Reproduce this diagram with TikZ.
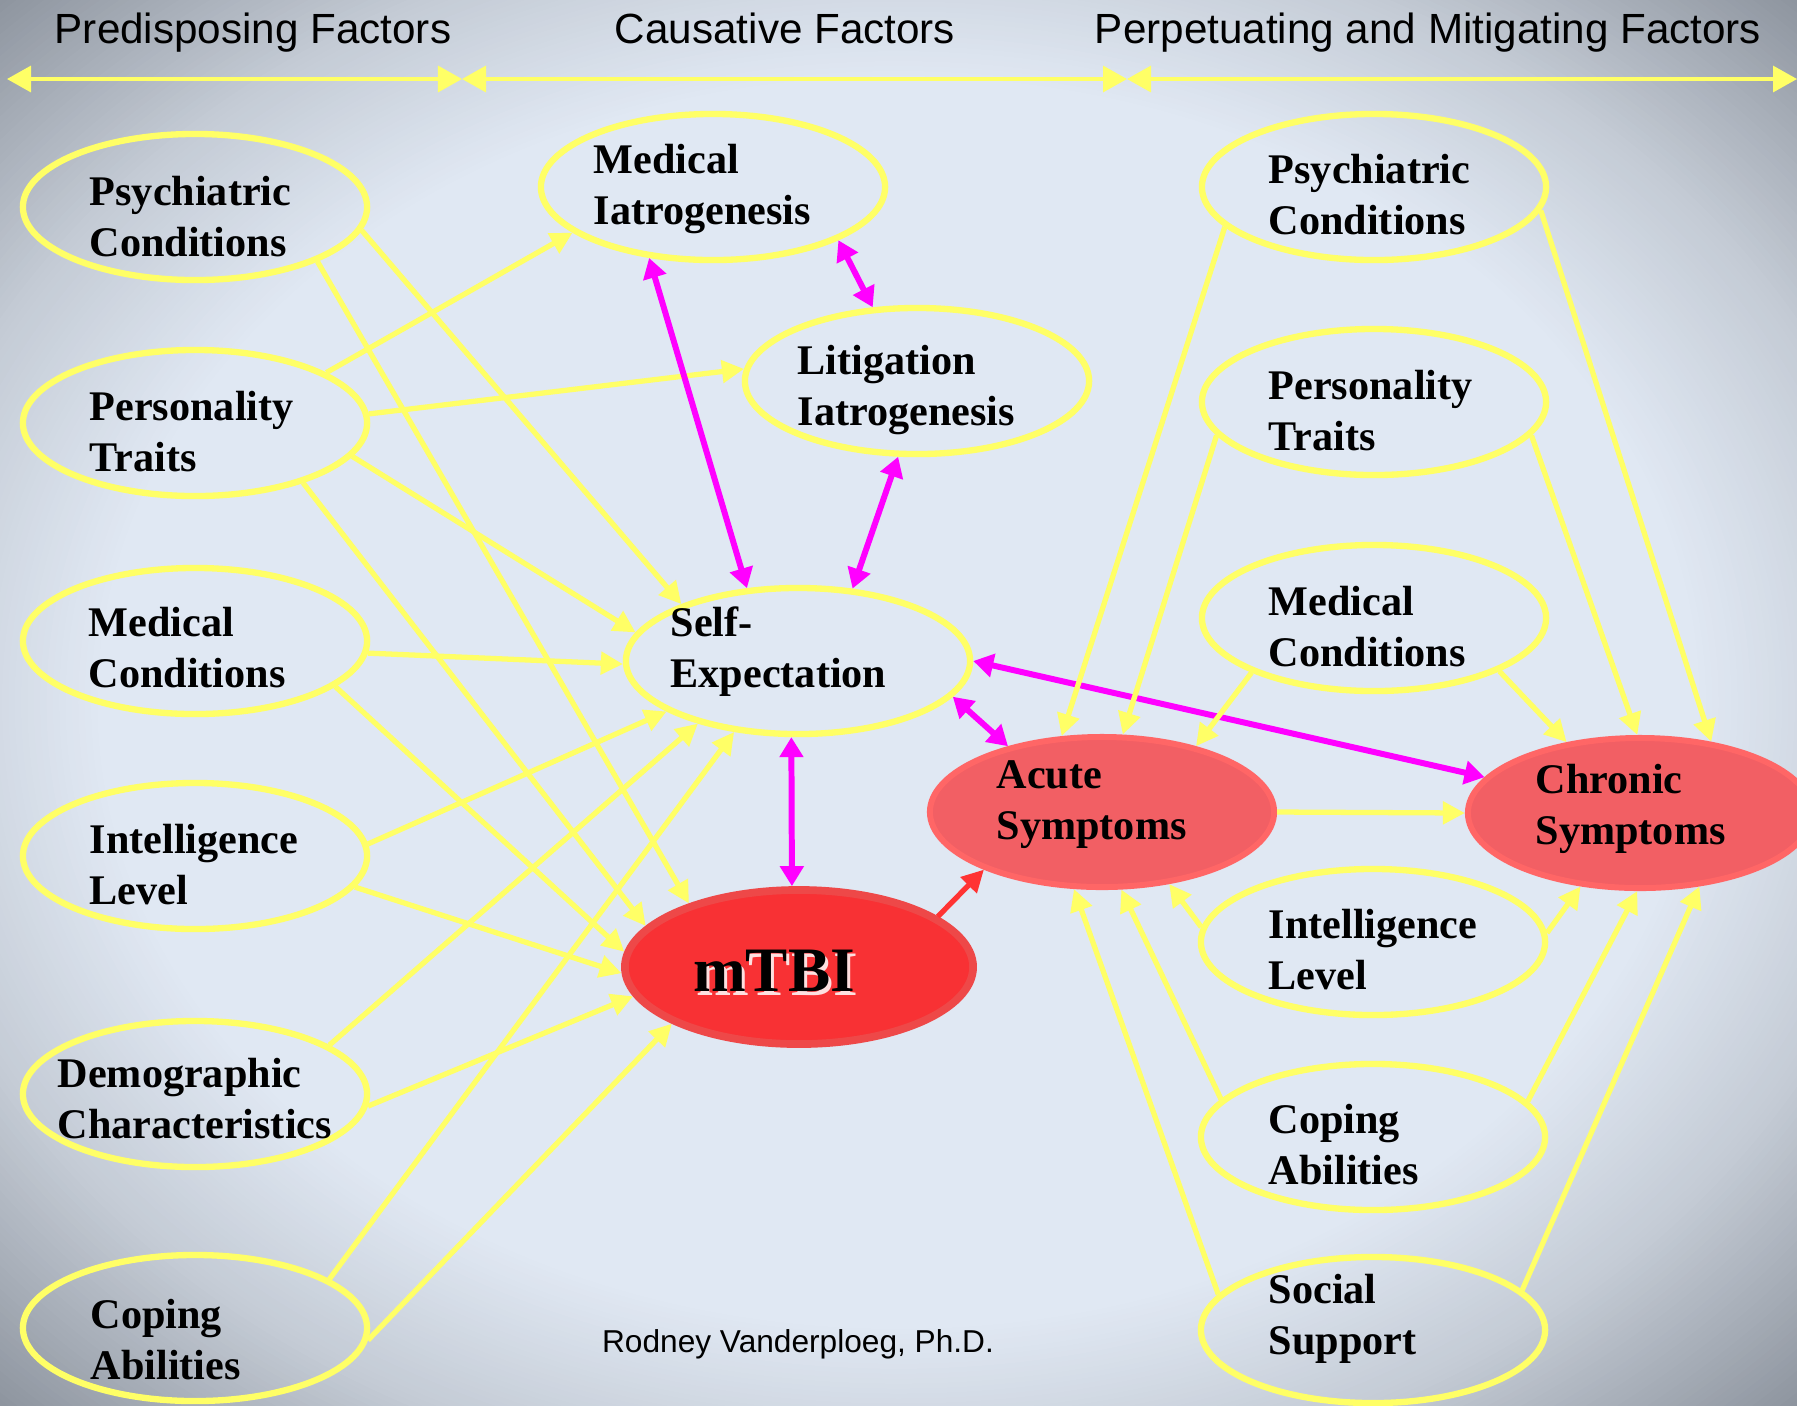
\documentclass[tikz,border=0pt]{standalone}
\usepackage{fontspec}
\setmainfont{Liberation Serif}
\newfontfamily\hdrfont{Liberation Sans}
\usetikzlibrary{shapes.geometric, arrows.meta, positioning}
\definecolor{fyellow}{HTML}{FFFF66}
\definecolor{linkmag}{HTML}{FF00FF}
\definecolor{causered}{HTML}{FF3333}
\definecolor{mtbifill}{HTML}{F83134}
\definecolor{mtbiedge}{HTML}{EE4848}
\definecolor{symfill}{HTML}{F25F64}
\definecolor{symedge}{HTML}{FF6666}
\definecolor{bglight}{HTML}{E0E8F3}
\definecolor{bgmid}{HTML}{C4CBD5}
\definecolor{bgdark}{HTML}{8E959F}

\begin{document}
\begin{tikzpicture}[x=0.01cm, y=-0.01cm,
    factor/.style={ellipse, draw=fyellow, line width=1.8pt, minimum width=3.44cm,
      minimum height=1.46cm, inner sep=0pt},
    symptom/.style={ellipse, draw=symedge, fill=symfill, line width=1.7pt,
      minimum width=3.44cm, minimum height=1.5cm, inner sep=0pt},
    lbl/.style={anchor=west, align=left, inner sep=0pt,
      font=\bfseries\fontsize{12}{14.5}\selectfont},
    hdr/.style={anchor=base, inner sep=0pt, font=\hdrfont\fontsize{12}{14}\selectfont},
    yfeed/.style={-{Triangle[length=2.2mm, width=2.2mm]}, draw=fyellow, line width=1.5pt},
    rfeed/.style={-{Triangle[length=2.2mm, width=2.2mm]}, draw=causered, line width=1.5pt},
    mlink/.style={{Triangle[length=2mm, width=2.3mm]}-{Triangle[length=2mm, width=2.3mm]},
      draw=linkmag, line width=1.7pt},
    hdrarrow/.style={{Triangle[length=2.4mm, width=2.6mm]}-{Triangle[length=2.4mm, width=2.6mm]},
      draw=fyellow, line width=0.95pt},
  ]
    \useasboundingbox (0,0) rectangle (1797,1405);
    \begin{scope}
      \clip (0,0) rectangle (1797,1405);
      \fill[bgdark] (0,0) rectangle (1797,1405);
      \foreach \k in {0,...,40} {
        \pgfmathsetmacro{\rr}{50-\k*0.25}
        \pgfmathsetmacro{\pp}{(\rr-40)/10*100}
        \pgfmathsetmacro{\ax}{0.2542*\rr}
        \pgfmathsetmacro{\ay}{0.1988*\rr}
        \fill[bgdark!\pp!bgmid] (898.5,702.5) ellipse [x radius=\ax cm, y radius=\ay cm];
      }
      \foreach \k in {0,...,34} {
        \pgfmathsetmacro{\rr}{40-\k*0.25}
        \pgfmathsetmacro{\pp}{(\rr-31.5)/8.5*100}
        \pgfmathsetmacro{\ax}{0.2542*\rr}
        \pgfmathsetmacro{\ay}{0.1988*\rr}
        \fill[bgmid!\pp!bglight] (898.5,702.5) ellipse [x radius=\ax cm, y radius=\ay cm];
      }
    \end{scope}

    \node[hdr] (hpre) at (253,43) {Predisposing Factors};
    \node[hdr] (hcau) at (785,43) {Causative Factors};
    \node[hdr] (hper) at (1428,43) {Perpetuating and Mitigating Factors};
    \coordinate (hl) at (7,79);
    \coordinate (hm1) at (462,79);
    \coordinate (hm2) at (1127,79);
    \coordinate (hr) at (1797,79);
    \draw[hdrarrow] (hl) -- (hm1);
    \draw[hdrarrow] (hm1) -- (hm2);
    \draw[hdrarrow] (hm2) -- (hr);

    \node[factor] (lpsy) at (195,207) {};
    \node[factor] (lper) at (195,423) {};
    \node[factor] (lmed) at (195,641) {};
    \node[factor] (lint) at (195,856) {};
    \node[factor] (ldem) at (195,1094) {};
    \node[factor] (lcop) at (195,1328) {};
    \node[lbl] (lpsyt) at ([shift={(-106,10)}]lpsy.center) {Psychiatric\\Conditions};
    \node[lbl] (lpert) at ([shift={(-106,9)}]lper.center) {Personality\\Traits};
    \node[lbl] (lmedt) at ([shift={(-107,7)}]lmed.center) {Medical\\Conditions};
    \node[lbl] (lintt) at ([shift={(-106,9)}]lint.center) {Intelligence\\Level};
    \node[lbl] (ldemt) at ([shift={(-138,5)}]ldem.center) {Demographic\\Characteristics};
    \node[lbl] (lcopt) at ([shift={(-105,12)}]lcop.center) {Coping\\Abilities};

    \node[factor] (miat) at (713,187) {};
    \node[factor] (liat) at (917,381) {};
    \node[factor] (self) at (798,661) {};
    \node[ellipse, draw=mtbiedge, fill=mtbifill, line width=2.2pt, minimum width=3.48cm,
      minimum height=1.54cm] (mtbi) at (799,967) {};
    \node[symptom] (acute) at (1102,812) {};
    \node[symptom] (chron) at (1640,813) {};
    \node[lbl] (miatt) at ([shift={(-120,2)}]miat.center) {Medical\\Iatrogenesis};
    \node[lbl] (liatt) at ([shift={(-120,9)}]liat.center) {Litigation\\Iatrogenesis};
    \node[lbl] (selft) at ([shift={(-128,-9)}]self.center) {Self-\\Expectation};
    \node[font=\bfseries\fontsize{18}{20}\selectfont, text=white, opacity=0.85]
      (mtbis) at (777,975) {mTBI};
    \node[font=\bfseries\fontsize{18}{20}\selectfont] (mtbit) at (774,971) {mTBI};
    \node[lbl] (acutet) at ([shift={(-106,-7)}]acute.center) {Acute\\Symptoms};
    \node[lbl] (chront) at ([shift={(-105,-4)}]chron.center) {Chronic\\Symptoms};

    \node[factor] (rpsy) at (1374,187) {};
    \node[factor] (rper) at (1374,402) {};
    \node[factor] (rmed) at (1374,618) {};
    \node[factor] (rint) at (1373,942) {};
    \node[factor] (rcop) at (1373,1137) {};
    \node[factor] (rsoc) at (1373,1330) {};
    \node[lbl] (rpsyt) at ([shift={(-106,8)}]rpsy.center) {Psychiatric\\Conditions};
    \node[lbl] (rpert) at ([shift={(-106,9)}]rper.center) {Personality\\Traits};
    \node[lbl] (rmedt) at ([shift={(-106,9)}]rmed.center) {Medical\\Conditions};
    \node[lbl] (rintt) at ([shift={(-105,8)}]rint.center) {Intelligence\\Level};
    \node[lbl] (rcopt) at ([shift={(-105,8)}]rcop.center) {Coping\\Abilities};
    \node[lbl] (rsoct) at ([shift={(-105,-11)}]rsoc.center) {Social\\Support};

    \node[hdr, font=\hdrfont\fontsize{9}{11}\selectfont] (credit) at (798,1352)
      {Rodney Vanderploeg, Ph.D.};

    \draw[yfeed] (lpsy.-8) -- (self.154);
    \draw[yfeed] (lpsy.-24) -- (mtbi.150);
    \draw[yfeed] (lper.21) -- (miat.198);
    \draw[yfeed] (lper.3) -- (liat.176);
    \draw[yfeed] (lper.-12) -- (self.170);
    \draw[yfeed] (lper.-29) -- (mtbi.165);
    \draw[yfeed] (lmed.-4) -- (self.181);
    \draw[yfeed] (lmed.-18) -- (mtbi.175);
    \draw[yfeed] (lint.4) -- (self.201);
    \draw[yfeed] (lint.-11) -- (mtbi.182);
    \draw[yfeed] (ldem.20) -- (self.212);
    \draw[yfeed] (ldem.-4) -- (mtbi.190);
    \draw[yfeed] (lcop.20) -- (self.228);
    \draw[yfeed] (lcop.-4) -- (mtbi.204);

    \draw[mlink] (miat.228) -- (self.125);
    \draw[mlink] (miat.-23) -- (liat.121);
    \draw[mlink] (liat.256) -- (self.53);
    \draw[mlink] (self.265) -- (mtbi.95);
    \draw[mlink] (self.-13) -- (acute.145);
    \draw[mlink] (self.0) -- (chron.167);

    \draw[rfeed] (mtbi.20) -- (acute.206);
    \draw[yfeed] (acute.0) -- (chron.180);

    \draw[yfeed] (rpsy.195) -- (acute.118);
    \draw[yfeed] (rpsy.-8) -- (chron.45);
    \draw[yfeed] (rper.192) -- (acute.75);
    \draw[yfeed] (rper.-12) -- (chron.92);
    \draw[yfeed] (rmed.204) -- (acute.35);
    \draw[yfeed] (rmed.-23) -- (chron.136);
    \draw[yfeed] (rint.175) -- (acute.-47);
    \draw[yfeed] (rint.3) -- (chron.231);
    \draw[yfeed] (rcop.166) -- (acute.-76);
    \draw[yfeed] (rcop.13) -- (chron.-92);
    \draw[yfeed] (rsoc.167) -- (acute.250);
    \draw[yfeed] (rsoc.15) -- (chron.-51);
\end{tikzpicture}
\end{document}
